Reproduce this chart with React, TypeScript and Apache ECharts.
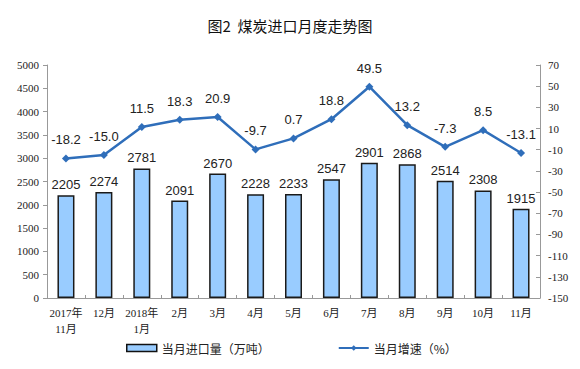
import React, { useEffect, useRef } from "react";
import * as echarts from "echarts";

const categories = ["2017年\n11月", "12月", "2018年\n1月", "2月", "3月", "4月", "5月", "6月", "7月", "8月", "9月", "10月", "11月"];
const importVolume = [2205, 2274, 2781, 2091, 2670, 2228, 2233, 2547, 2901, 2868, 2514, 2308, 1915];
const growthRate = [-18.2, -15.0, 11.5, 18.3, 20.9, -9.7, 0.7, 18.8, 49.5, 13.2, -7.3, 8.5, -13.1];

const serif = "'Liberation Serif', 'Noto Sans CJK SC', serif";
const sans = "'Liberation Sans', Arial, sans-serif";

export default function App() {
  const ref = useRef<HTMLDivElement>(null);
  useEffect(() => {
    if (!ref.current) return;
    const chart = echarts.init(ref.current, null, { renderer: "svg" });
    chart.setOption({
      animation: false,
      backgroundColor: "#fff",
      title: {
        text: "图2  煤炭进口月度走势图",
        left: "center",
        top: 13,
        textStyle: { fontFamily: "'Noto Sans CJK SC', sans-serif", fontSize: 15, fontWeight: "normal", color: "#111" },
      },
      legend: {
        bottom: 10,
        left: 121,
        itemGap: 68,
        textStyle: { fontFamily: "'Noto Sans CJK SC', sans-serif", fontSize: 12, color: "#222" },
        data: [
          { name: "当月进口量（万吨）", icon: "rect", itemStyle: { borderColor: "#111", borderWidth: 1.5 } },
          { name: "当月增速（%）" },
        ],
        itemWidth: 30,
        itemHeight: 7,
      },
      grid: { left: 47, right: 40, top: 65, bottom: 71 },
      xAxis: {
        type: "category",
        data: categories,
        axisLine: { lineStyle: { color: "#999" } },
        axisTick: { show: true, inside: true, length: 3, lineStyle: { color: "#999" } },
        axisLabel: { fontFamily: serif, fontSize: 11, color: "#222", lineHeight: 16, margin: 7, interval: 0 },
      },
      yAxis: [
        {
          type: "value",
          min: 0,
          max: 5000,
          interval: 500,
          splitLine: { show: false },
          axisLine: { show: true, lineStyle: { color: "#999" } },
          axisTick: { show: true, length: 4, lineStyle: { color: "#999" } },
          axisLabel: { fontFamily: serif, fontSize: 11, color: "#222", margin: 8, formatter: (v: number) => String(v) },
        },
        {
          type: "value",
          min: -150,
          max: 70,
          interval: 20,
          splitLine: { show: false },
          axisLine: { show: true, lineStyle: { color: "#999" } },
          axisTick: { show: true, inside: true, length: 4, lineStyle: { color: "#999" } },
          axisLabel: { fontFamily: serif, fontSize: 11, color: "#222", margin: 8, formatter: (v: number) => String(v) },
        },
      ],
      series: [
        {
          name: "当月进口量（万吨）",
          type: "bar",
          data: importVolume,
          barWidth: 17,
          itemStyle: { color: "#99CCFF", borderColor: "#1a1a1a", borderWidth: 1.5 },
          label: { show: true, position: "top", distance: 4, fontFamily: sans, fontSize: 13, color: "#222" },
        },
        {
          name: "当月增速（%）",
          type: "line",
          yAxisIndex: 1,
          data: growthRate,
          symbol: "diamond",
          symbolSize: 8,
          lineStyle: { color: "#2F6EBA", width: 2.5 },
          itemStyle: { color: "#2F6EBA" },
          label: {
            show: true,
            position: "top",
            distance: 8,
            fontFamily: sans,
            fontSize: 13,
            color: "#222",
            formatter: (p: any) => Number(p.value).toFixed(1),
          },
        },
      ],
    });
    return () => chart.dispose();
  }, []);
  return <div ref={ref} style={{ width: 580, height: 369, position: "absolute", left: 0, top: 0 }} />;
}
